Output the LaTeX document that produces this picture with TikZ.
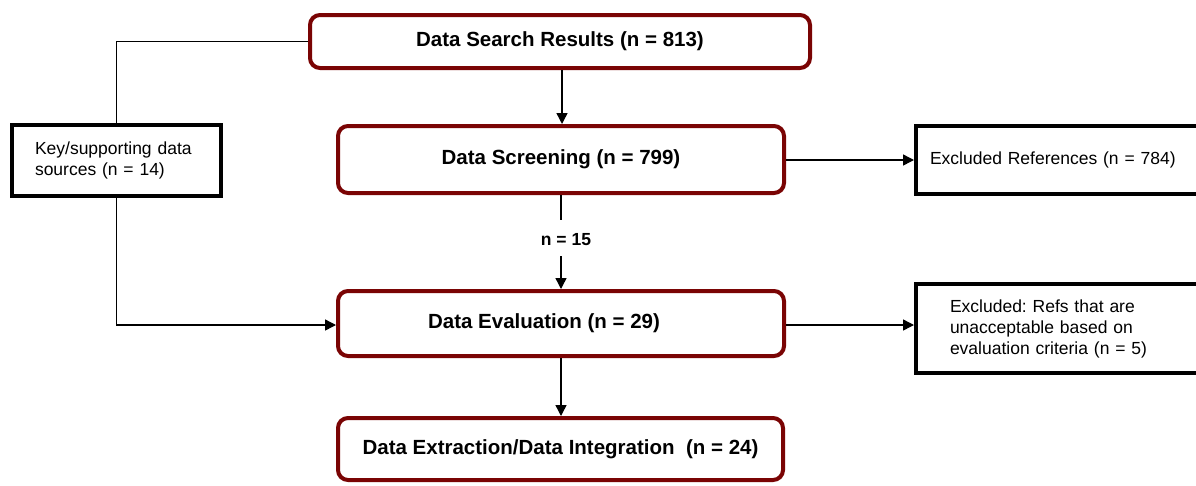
\documentclass[tikz,border=0pt]{standalone}
\usepackage{fontspec}
\setmainfont{Liberation Sans}
\usetikzlibrary{arrows.meta}
\frenchspacing
\definecolor{boxred}{RGB}{122,4,4}
\tikzset{
  mainbox/.style={draw=boxred, line width=4pt, rounded corners=10pt, fill=white,
    font=\fontsize{20.5}{24}\selectfont\bfseries, align=center, inner sep=0pt},
  sidebox/.style={draw=black, line width=4pt, fill=white, inner sep=0pt,
    font=\fontsize{17.5}{21}\selectfont, align=left},
  link/.style={line width=1.4pt, draw=black},
  arrowlink/.style={link, -{Triangle[length=11pt,width=11pt]}},
}
\begin{document}
\begin{tikzpicture}[x=1pt,y=-1pt]
  \clip (0,0) rectangle (1196,485);
  \fill[white] (0,0) rectangle (1196,485);

  % main flow
  \node[mainbox, minimum width=500pt, minimum height=53pt] (search) at (560,41.5)
    {Data Search Results (n = 813)};
  \node[mainbox, minimum width=446pt, minimum height=67pt] (screen) at (561,159.5)
    {Data Screening (n = 799)};
  \node[mainbox, minimum width=446pt, minimum height=65pt] (eval) at (561,323.5)
    {Data Evaluation (n = 29)\hspace*{34pt}};
  \node[mainbox, minimum width=445pt, minimum height=62pt] (extract) at (560.5,449)
    {Data Extraction/Data Integration\ \ (n = 24)};

  % side boxes
  \node[sidebox, minimum width=209pt, minimum height=71pt, text width=163pt] (key) at (116.5,160.5)
    {Key/supporting data\\sources (n = 14)};
  \node[sidebox, minimum width=292pt, minimum height=68pt, text width=264pt] (excl1) at (1062,160)
    {Excluded References (n = 784)};
  \node[sidebox, minimum width=292pt, minimum height=89pt, text width=224pt] (excl2) at (1062,328.5)
    {Excluded: Refs that are\\unacceptable based on\\evaluation criteria (n = 5)};

  % count between screening and evaluation
  \node[font=\fontsize{17.5}{21}\selectfont\bfseries, inner sep=0pt] (n15) at (566,240) {n = 15};

  % connectors
  \draw[arrowlink] (search.south -| 562,0) -- (screen.north -| 562,0);
  \draw[link] (search.west) -| (key.north);
  \draw[arrowlink] (key.south) |- (eval.west |- 0,325);
  \draw[arrowlink] (screen.east |- 0,160) -- (excl1.west);
  \draw[link] (screen.south) -- ([yshift=14pt]n15.north -| screen.south);
  \draw[arrowlink] ([yshift=-10pt]n15.south -| eval.north) -- (eval.north);
  \draw[arrowlink] (eval.east |- 0,325) -- (excl2.west |- 0,325);
  \draw[arrowlink] (eval.south) -- (extract.north -| eval.south);
\end{tikzpicture}
\end{document}
